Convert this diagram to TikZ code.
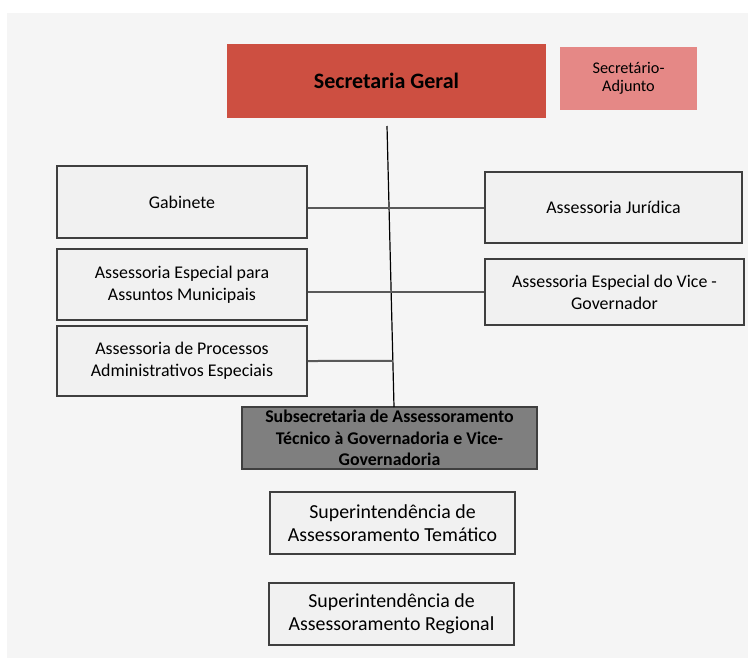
\documentclass[tikz,border=0pt]{standalone}
\usepackage{fontspec}
\setmainfont{Carlito}
\usetikzlibrary{calc,positioning}
\definecolor{sgred}{HTML}{CD4F41}
\definecolor{adjpink}{HTML}{E58886}
\definecolor{boxgray}{HTML}{F1F1F1}
\definecolor{subgray}{HTML}{7F7F7F}
\definecolor{bggray}{HTML}{F5F5F5}
\definecolor{edgegray}{HTML}{3F3F3F}
\tikzset{
  unit/.style={draw=edgegray, line width=1.2pt, fill=boxgray, align=center, inner sep=2pt, text=black,
    font=\fontsize{13.4}{16.5}\selectfont},
  sgbox/.style={fill=sgred, align=center, font=\fontsize{16.5}{19}\selectfont\bfseries},
  adjbox/.style={fill=adjpink, align=center, font=\fontsize{12.2}{13.5}\selectfont},
  subbox/.style={unit, fill=subgray, font=\fontsize{13.4}{16}\selectfont\bfseries},
  superbox/.style={unit, font=\fontsize{14.9}{17.3}\selectfont},
  link/.style={draw=black!65, line width=1.5pt}
}
\begin{document}
\begin{tikzpicture}[x=0.75pt,y=-0.75pt]
	\useasboundingbox (0,0) rectangle (748,661);
	\fill[bggray] (7,13) rectangle (748,658);

	\node[sgbox, minimum width=239.25pt, minimum height=55.5pt] (sg) at (386.5,81) {Secretaria Geral};
	\node[adjbox, minimum width=102.75pt, minimum height=47.25pt] (adj) at (628.5,78.5) {Secretário-\\Adjunto};

	\node[unit, minimum width=187.5pt, minimum height=54pt] (gab) at (182,202) {Gabinete};
	\node[unit, minimum width=187.5pt, minimum height=53.25pt] (mun) at (182,284.5) {Assessoria Especial para\\Assuntos Municipais};
	\node[unit, minimum width=187.5pt, minimum height=52.5pt] (proc) at (182,361) {Assessoria de Processos\\Administrativos Especiais};
	\node[unit, minimum width=192.75pt, minimum height=53.25pt] (jur) at (613.5,207.5) {Assessoria Jurídica};
	\node[unit, minimum width=194.25pt, minimum height=49.5pt] (vice) at (614.5,292) {Assessoria Especial do Vice -\\Governador};

	\node[subbox, minimum width=221.25pt, minimum height=46.5pt] (sub) at (389.5,438) {Subsecretaria de Assessoramento\\Técnico à Governadoria e Vice-\\Governadoria};
	\node[superbox, minimum width=183.75pt, minimum height=46.5pt] (tem) at (392.5,523) {Superintendência de\\Assessoramento Temático};
	\node[superbox, minimum width=183.75pt, minimum height=46.5pt] (reg) at (391.5,614) {Superintendência de\\Assessoramento Regional};

	\coordinate (spinetop) at (387,126);
	\coordinate (spinebot) at (394,407);
	\coordinate (spineproc) at ($(spinetop)!0.836!(spinebot)$);
	\draw[black, line width=0.9pt] (spinetop) -- (spinebot);
	\draw[link] (gab.east |- jur.west) -- (jur.west);
	\draw[link] (mun.east |- vice.west) -- (vice.west);
	\draw[link] (proc.east) -- (spineproc);
\end{tikzpicture}
\end{document}
